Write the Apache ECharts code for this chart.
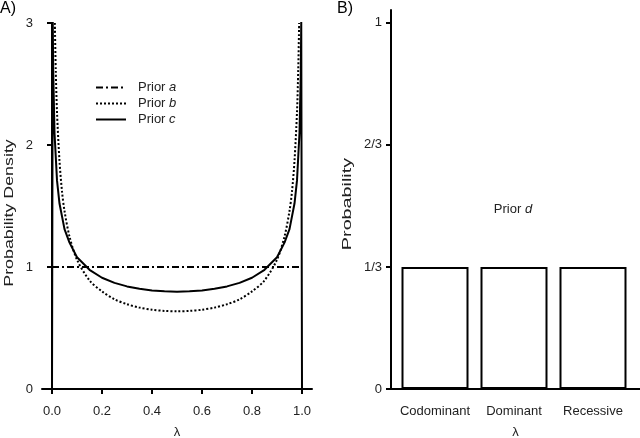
<!DOCTYPE html>
<html>
<head>
<meta charset="utf-8">
<script src="https://cdn.jsdelivr.net/npm/echarts@6/dist/echarts.min.js"></script>
<style>
  html, body { margin: 0; padding: 0; background: #fff; }
  #chart { width: 640px; height: 438px; }
</style>
</head>
<body>
<div id="chart"></div>
<script>
// panel A: prior densities
const priorALambda = [0, 1];
const priorAValues = [1, 1];

const priorBLambda = [0.0114, 0.015, 0.02, 0.03, 0.04, 0.05, 0.07, 0.1, 0.15, 0.2, 0.25, 0.3, 0.35, 0.4, 0.45, 0.5,
  0.55, 0.6, 0.65, 0.7, 0.75, 0.8, 0.85, 0.9, 0.93, 0.95, 0.96, 0.97, 0.98, 0.985, 0.9886];
const priorBValues = [3.0, 2.62, 2.27, 1.87, 1.62, 1.46, 1.25, 1.06, 0.89, 0.80, 0.735, 0.695, 0.667, 0.65, 0.64, 0.637,
  0.64, 0.65, 0.667, 0.695, 0.735, 0.80, 0.89, 1.06, 1.25, 1.46, 1.62, 1.87, 2.27, 2.62, 3.0];

const priorCLambda = [0, 0.003, 0.005, 0.01, 0.02, 0.03, 0.05, 0.07, 0.1, 0.15, 0.2, 0.25, 0.3, 0.35, 0.4, 0.45, 0.5,
  0.55, 0.6, 0.65, 0.7, 0.75, 0.8, 0.85, 0.9, 0.93, 0.95, 0.97, 0.98, 0.99, 0.995, 0.997, 1];
const priorCValues = [0, 3.01, 2.59, 2.10, 1.71, 1.52, 1.31, 1.20, 1.08, 0.977, 0.912, 0.87, 0.841, 0.821, 0.808, 0.801, 0.798,
  0.801, 0.808, 0.821, 0.841, 0.87, 0.912, 0.977, 1.08, 1.20, 1.31, 1.52, 1.71, 2.10, 2.59, 3.01, 0];

const xTicksA = [0, 0.2, 0.4, 0.6, 0.8, 1.0];
const yTicksA = [0, 1, 2, 3];

// panel B: prior d over modes of inheritance
const categories = ['Codominant', 'Dominant', 'Recessive'];
const priorDValues = [0.3333, 0.3333, 0.3333];
const yTicksB = [0, 1 / 3, 2 / 3, 1];
const yTickLabelsB = ['0', '1/3', '2/3', '1'];

const font = 'Liberation Sans, Arial, sans-serif';
const ink = '#000';
const labelInk = '#222';

const zip = (xs, ys) => xs.map((x, i) => [x, ys[i]]);

const chart = echarts.init(document.getElementById('chart'));

const axisBase = {
  axisLine: {lineStyle: {color: ink, width: 2}},
  axisTick: {lineStyle: {color: ink, width: 2}, length: 5},
  axisLabel: {color: labelInk, fontSize: 13, fontFamily: font},
  splitLine: {show: false},
  nameTextStyle: {color: labelInk, fontSize: 13, fontFamily: font}
};

// the rotated axis titles are stretched along their length in the original
const axisTitle = (text, x, y, stretch) => ({
  type: 'text', x: x, y: y, rotation: Math.PI / 2, scaleX: stretch,
  style: {
    text: text, fontSize: 13, fontFamily: font, fill: labelInk,
    align: 'center', verticalAlign: 'middle'
  }
});

const option = {
  animation: false,
  textStyle: {fontFamily: font},
  grid: [
    {left: 42, top: 23, width: 270, height: 366, outerBoundsMode: 'none'},
    {left: 391, top: 10, width: 249, height: 379, outerBoundsMode: 'none'}
  ],
  legend: {
    data: ['Prior a', 'Prior b', 'Prior c'],
    orient: 'vertical',
    left: 95,
    top: 81,
    padding: 0,
    itemWidth: 30,
    itemHeight: 14,
    itemGap: 3,
    itemStyle: {opacity: 0},
    textStyle: {
      color: labelInk,
      fontSize: 13,
      fontFamily: font,
      padding: [0, 0, 0, 7],
      rich: {i: {fontStyle: 'italic', fontSize: 13, fontFamily: font, color: labelInk}}
    },
    formatter: name => name.replace(/ (\w)$/, ' {i|$1}')
  },
  xAxis: [
    Object.assign({}, axisBase, {
      gridIndex: 0,
      type: 'value',
      min: -0.04,
      max: 1.04,
      name: 'λ',
      nameLocation: 'middle',
      nameGap: 37,
      axisTick: Object.assign({}, axisBase.axisTick, {customValues: xTicksA}),
      axisLabel: Object.assign({}, axisBase.axisLabel, {
        customValues: xTicksA, margin: 16, formatter: v => v.toFixed(1)
      })
    }),
    Object.assign({}, axisBase, {
      gridIndex: 1,
      type: 'value',
      min: 0.443,
      max: 3.595,
      name: 'λ',
      nameLocation: 'middle',
      nameGap: 37,
      axisTick: {show: false},
      axisLabel: Object.assign({}, axisBase.axisLabel, {
        customValues: [1, 2, 3], margin: 16, formatter: v => categories[Math.round(v) - 1]
      })
    })
  ],
  yAxis: [
    Object.assign({}, axisBase, {
      gridIndex: 0,
      type: 'value',
      min: 0,
      max: 3,
      axisTick: Object.assign({}, axisBase.axisTick, {customValues: yTicksA}),
      axisLabel: Object.assign({}, axisBase.axisLabel, {customValues: yTicksA, margin: 9})
    }),
    Object.assign({}, axisBase, {
      gridIndex: 1,
      type: 'value',
      min: 0,
      max: 1.035,
      axisTick: Object.assign({}, axisBase.axisTick, {customValues: yTicksB}),
      axisLabel: Object.assign({}, axisBase.axisLabel, {
        customValues: yTicksB, margin: 9,
        formatter: v => yTickLabelsB[yTicksB.findIndex(t => Math.abs(t - v) < 1e-6)]
      })
    })
  ],
  series: [
    {
      name: 'Prior a', type: 'line', xAxisIndex: 0, yAxisIndex: 0,
      showSymbol: false, symbol: 'none', clip: true,
      lineStyle: {color: ink, width: 2, type: [7, 3, 2, 3]},
      itemStyle: {color: ink},
      data: zip(priorALambda, priorAValues)
    },
    {
      name: 'Prior b', type: 'line', xAxisIndex: 0, yAxisIndex: 0,
      showSymbol: false, symbol: 'none', clip: true, smooth: 0.3,
      lineStyle: {color: ink, width: 2, type: [2, 2]},
      itemStyle: {color: ink},
      data: zip(priorBLambda, priorBValues)
    },
    {
      name: 'Prior c', type: 'line', xAxisIndex: 0, yAxisIndex: 0,
      showSymbol: false, symbol: 'none', clip: true,
      lineStyle: {color: ink, width: 2},
      itemStyle: {color: ink},
      data: zip(priorCLambda, priorCValues)
    },
    {
      name: 'Prior d', type: 'bar', xAxisIndex: 1, yAxisIndex: 1,
      barWidth: 67,
      itemStyle: {color: '#fff', borderColor: ink, borderWidth: 2},
      data: zip([1, 2, 3], priorDValues)
    }
  ],
  graphic: [
    {type: 'text', left: 0, top: 1, style: {text: 'A)', fontSize: 16, fontFamily: font, fill: ink}},
    {type: 'text', left: 337, top: 1, style: {text: 'B)', fontSize: 16, fontFamily: font, fill: ink}},
    axisTitle('Probability Density', 9, 213, 1.37),
    axisTitle('Probability', 347, 204, 1.52),
    {
      type: 'text', x: 513, y: 209,
      style: {
        text: 'Prior {i|d}', fontSize: 13, fontFamily: font, fill: labelInk,
        align: 'center', verticalAlign: 'middle',
        rich: {i: {fontStyle: 'italic', fontSize: 13, fontFamily: font, fill: labelInk}}
      }
    }
  ]
};

chart.setOption(option);
</script>
</body>
</html>
